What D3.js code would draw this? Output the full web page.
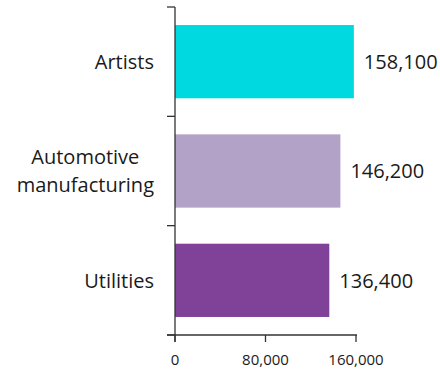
<!DOCTYPE html>
<html>
<head>
<meta charset="utf-8">
<script src="https://cdn.jsdelivr.net/npm/d3@7"></script>
<style>
  body { margin: 0; background: #fff; }
  svg text { font-family: "Open Sans", "Noto Sans", sans-serif; fill: #1a1a1a; }
</style>
</head>
<body>
<div id="chart"></div>
<script>
const categories = [["Artists"], ["Automotive", "manufacturing"], ["Utilities"]];
const values = [158100, 146200, 136400];
const colors = ["#00d9e0", "#b3a2c8", "#7f4298"];
const xTicks = [0, 80000, 160000];

const W = 440, H = 370;
const m = { left: 175, top: 7, right: 84, bottom: 35 };

const svg = d3.select('#chart').append('svg')
  .attr('width', W)
  .attr('height', H);

const x = d3.scaleLinear().domain([0, 160000]).range([m.left, W - m.right]);
const y = d3.scaleBand()
  .domain(d3.range(categories.length))
  .range([m.top, H - m.bottom])
  .paddingInner(0.33)
  .paddingOuter(0.165);

// bars
svg.append('g')
  .selectAll('rect')
  .data(values)
  .join('rect')
  .attr('x', x(0))
  .attr('y', (d, i) => y(i))
  .attr('width', d => x(d) - x(0))
  .attr('height', y.bandwidth())
  .attr('fill', (d, i) => colors[i]);

// value labels
svg.append('g')
  .selectAll('text')
  .data(values)
  .join('text')
  .attr('x', d => x(d) + 10)
  .attr('y', (d, i) => y(i) + y.bandwidth() / 2)
  .attr('dy', '0.36em')
  .style('font-size', '20px')
  .text(d => d3.format(',')(d));

// category labels: block right-aligned, lines centred
const labelRight = m.left - 21;
const lineH = 28;
svg.append('g')
  .selectAll('text')
  .data(categories)
  .join('text')
  .style('font-size', '20px')
  .attr('text-anchor', 'middle')
  .each(function (lines, i) {
    const t = d3.select(this);
    const cy = y(i) + y.bandwidth() / 2;
    lines.forEach((line, k) => {
      t.append('tspan')
        .attr('y', cy + (k - (lines.length - 1) / 2) * lineH)
        .attr('dy', '0.36em')
        .text(line);
    });
    const w = d3.max(t.selectAll('tspan').nodes(), n => n.getComputedTextLength());
    t.selectAll('tspan').attr('x', labelRight - w / 2);
  });

// axes (category boundaries get the y ticks)
const axisColor = '#333';
const yBottom = H - m.bottom;
const edges = [m.top].concat(d3.range(categories.length).map(i => y(i) + y.bandwidth() + y.step() * y.paddingInner() / 2));
edges[edges.length - 1] = yBottom;

const ax = svg.append('g').attr('stroke', axisColor).attr('stroke-width', 1.3);
ax.append('line')
  .attr('x1', x(0)).attr('x2', x(0))
  .attr('y1', m.top).attr('y2', yBottom + 7);
ax.selectAll('.ytick')
  .data(edges)
  .join('line')
  .attr('x1', x(0) - 8).attr('x2', x(0))
  .attr('y1', d => d).attr('y2', d => d);
ax.append('line')
  .attr('x1', x(0) - 8).attr('x2', x(160000) + 1)
  .attr('y1', yBottom).attr('y2', yBottom);
ax.selectAll('.xtick')
  .data(xTicks)
  .join('line')
  .attr('x1', d => x(d)).attr('x2', d => x(d))
  .attr('y1', yBottom).attr('y2', yBottom + 7);

svg.append('g')
  .selectAll('text')
  .data(xTicks)
  .join('text')
  .attr('x', d => x(d))
  .attr('y', yBottom + 30)
  .attr('text-anchor', 'middle')
  .style('font-size', '15px')
  .text(d => d3.format(',')(d));
</script>
</body>
</html>
